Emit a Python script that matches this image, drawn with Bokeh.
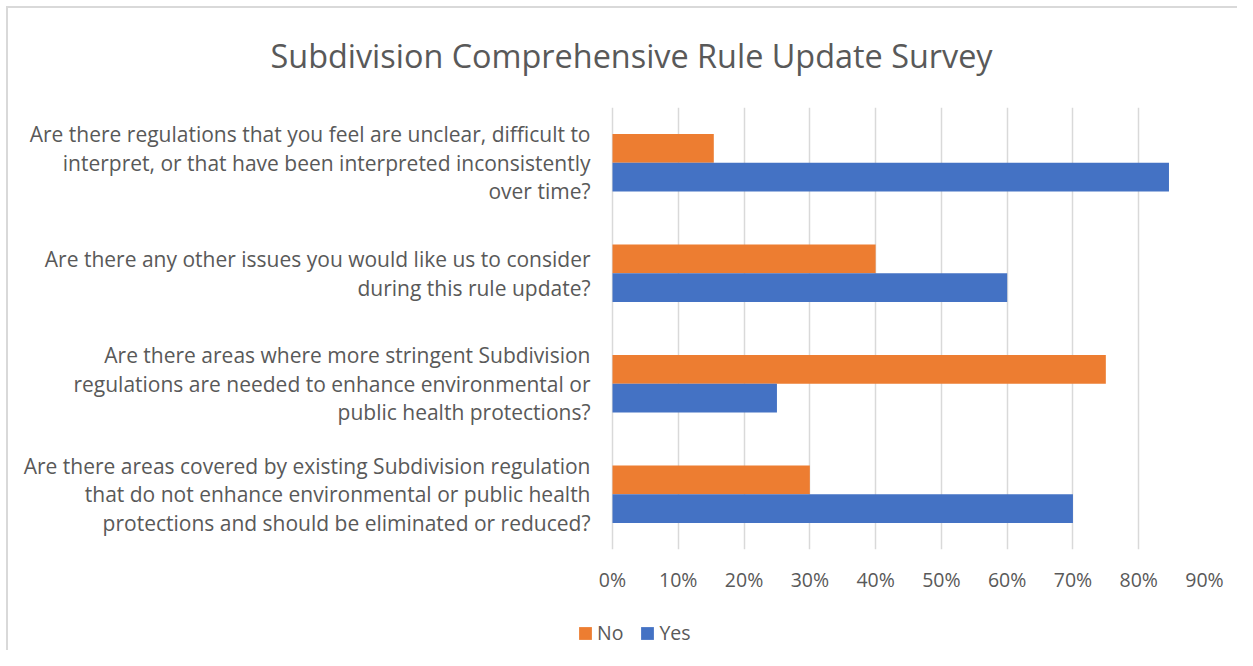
from bokeh.plotting import figure
from bokeh.layouts import column
from bokeh.models import (Range1d, FactorRange, FixedTicker, NumeralTickFormatter,
                          Legend, LegendItem, ColumnDataSource)
from bokeh.transform import dodge
from bokeh.embed import file_html
from bokeh.resources import INLINE

# ---- data ----
questions = [
    "Are there regulations that you feel are unclear, difficult to\ninterpret, or that have been interpreted inconsistently\nover time?",
    "Are there any other issues you would like us to consider\nduring this rule update?",
    "Are there areas where more stringent Subdivision\nregulations are needed to enhance environmental or\npublic health protections?",
    "Are there areas covered by existing Subdivision regulation\nthat do not enhance environmental or public health\nprotections and should be eliminated or reduced?",
]
no_vals = [0.154, 0.40, 0.75, 0.30]
yes_vals = [0.846, 0.60, 0.25, 0.70]
x_ticks = [0, 0.1, 0.2, 0.3, 0.4, 0.5, 0.6, 0.7, 0.8, 0.9]
series_names = ["No", "Yes"]
title_text = "Subdivision Comprehensive Rule Update Survey"

FONT = "Open Sans"
TXT = "#595959"
ORANGE = "#ED7D31"
BLUE = "#4472C4"

factors = list(reversed(questions))  # bottom to top

# frame starts a little left of the 0% line so the legend strip below can line up
p = figure(width=1237, height=605, output_backend="svg", toolbar_location=None,
           y_range=FactorRange(factors=factors, range_padding=0),
           x_range=Range1d(-0.0517, 0.9),
           min_border_left=578, min_border_right=33,
           min_border_top=105, min_border_bottom=56)
p.outline_line_color = None
p.background_fill_color = None
p.border_fill_color = None

p.title.text = title_text
p.title.text_font = FONT
p.title.text_font_size = "32.4px"
p.title.text_font_style = "normal"
p.title.text_color = TXT
p.title.align = "left"
p.title.vertical_align = "bottom"
p.title.offset = -308
p.title.standoff = 61

src = ColumnDataSource(dict(q=questions, no=no_vals, yes=yes_vals))
r_no = p.hbar(y=dodge("q", 0.13, range=p.y_range), right="no", left=0, height=0.26,
              source=src, fill_color=ORANGE, line_color=None)
r_yes = p.hbar(y=dodge("q", -0.13, range=p.y_range), right="yes", left=0, height=0.26,
               source=src, fill_color=BLUE, line_color=None)

xa = p.xaxis[0]
xa.ticker = FixedTicker(ticks=x_ticks)
xa.formatter = NumeralTickFormatter(format="0%")
xa.axis_line_color = None
xa.major_tick_line_color = None
xa.minor_tick_line_color = None
xa.major_label_text_font = FONT
xa.major_label_text_font_size = "19.5px"
xa.major_label_text_color = TXT
xa.major_label_standoff = 10

ya = p.yaxis[0]
ya.axis_line_color = None
ya.major_tick_line_color = None
ya.minor_tick_line_color = None
ya.major_label_text_font = FONT
ya.major_label_text_font_size = "21px"
ya.major_label_text_color = TXT
ya.major_label_text_line_height = 1.02
ya.major_label_standoff = -18

p.xgrid.ticker = FixedTicker(ticks=x_ticks)
p.xgrid.grid_line_color = "#D9D9D9"
p.xgrid.grid_line_width = 1.5
p.ygrid.grid_line_color = None

# ---- legend strip below the chart (keys use hidden copies of the series) ----
lg = figure(width=1237, height=45, output_backend="svg", toolbar_location=None,
            x_range=Range1d(0, 1), y_range=Range1d(0, 1),
            x_axis_type=None, y_axis_type=None,
            min_border_left=578, min_border_right=33, min_border_top=0, min_border_bottom=0)
lg.outline_line_color = None
lg.background_fill_color = None
lg.border_fill_color = None
lg.grid.visible = False
k_no = lg.hbar(y=0.5, right="no", left=0, height=0.5, source=src,
               fill_color=ORANGE, line_color=None, visible=False)
k_yes = lg.hbar(y=0.5, right="yes", left=0, height=0.5, source=src,
                fill_color=BLUE, line_color=None, visible=False)
legend = Legend(items=[LegendItem(label=series_names[0], renderers=[k_no]),
                       LegendItem(label=series_names[1], renderers=[k_yes])],
                orientation="horizontal", location=(-1, 4),
                border_line_color=None, background_fill_alpha=0,
                inactive_fill_alpha=0,
                padding=0, margin=0, spacing=16,
                glyph_width=16, glyph_height=16, label_standoff=4,
                label_text_font=FONT, label_text_font_size="19.5px",
                label_text_color=TXT)
lg.add_layout(legend, "center")

layout = column(p, lg, spacing=0)
layout.styles = {"box-shadow": "inset 6px 6px 0 0 #ffffff, inset 8px 8px 0 0 #d9d9d9"}

open("out.html", "w").write(file_html(layout, INLINE))
